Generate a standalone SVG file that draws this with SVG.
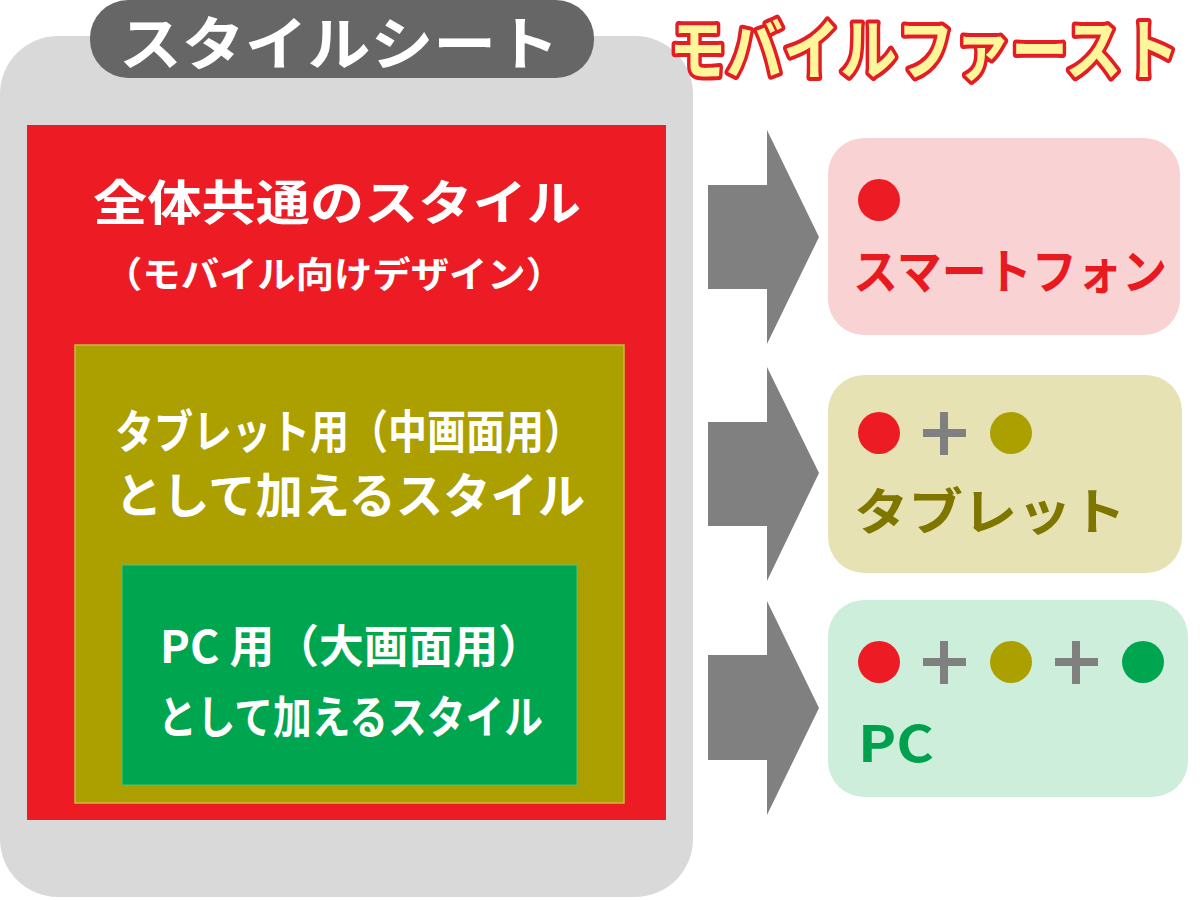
<svg xmlns="http://www.w3.org/2000/svg" width="1200" height="900" viewBox="0 0 1200 900">
<style>
  text { font-family: "Noto Sans CJK JP", "Noto Sans", sans-serif; font-weight: bold; }
  .w { fill: #ffffff; }
  .arrow { fill: #808080; }
  .plus { stroke: #808080; stroke-width: 8; }
</style>
<rect width="1200" height="900" fill="#ffffff"/>
<g id="stylesheet">
  <rect x="0" y="36" width="693" height="861" rx="58" fill="#d9d9d9"/>
  <rect x="90" y="0" width="504" height="78" rx="38" fill="#666666"/>
  <text class="w" x="119" y="65" font-size="58" textLength="440" lengthAdjust="spacingAndGlyphs">スタイルシート</text>
</g>
<g id="common">
  <rect x="27" y="125" width="639" height="695" fill="#ed1c24"/>
  <text class="w" x="93" y="220" font-size="48" textLength="488" lengthAdjust="spacingAndGlyphs">全体共通のスタイル</text>
  <text class="w" x="104" y="288" font-size="36" textLength="460" lengthAdjust="spacingAndGlyphs">（モバイル向けデザイン）</text>
</g>
<g id="tablet-style">
  <rect x="75" y="345" width="549" height="458" fill="#aca000" stroke="#c8bb40" stroke-width="1.5"/>
  <text class="w" x="115" y="448" font-size="46" textLength="468" lengthAdjust="spacingAndGlyphs">タブレット用（中画面用）</text>
  <text class="w" x="115" y="513" font-size="48" textLength="470" lengthAdjust="spacingAndGlyphs">として加えるスタイル</text>
</g>
<g id="pc-style">
  <rect x="122" y="565" width="455" height="220" fill="#00a550" stroke="#4cc27e" stroke-width="1"/>
  <text class="w" x="160" y="663" font-size="45" textLength="383" lengthAdjust="spacingAndGlyphs">PC 用（大画面用）</text>
  <text class="w" x="158" y="734" font-size="45" textLength="385" lengthAdjust="spacingAndGlyphs">として加えるスタイル</text>
</g>
<g id="title">
  <text x="669" y="74" font-size="66" textLength="510" lengthAdjust="spacingAndGlyphs" fill="#fff59a" stroke="#e31d23" stroke-width="8" stroke-linejoin="round" paint-order="stroke">モバイルファースト</text>
</g>
<g id="connectors">
  <polygon class="arrow" points="708,185 767,185 767,130 819,237 767,344 767,289 708,289"/>
  <polygon class="arrow" points="708,422 767,422 767,367 819,473 767,581 767,526 708,526"/>
  <polygon class="arrow" points="708,655 767,655 767,601 819,708 767,815 767,760 708,760"/>
</g>
<g id="smartphone">
  <rect x="828" y="138" width="352" height="197" rx="36" fill="#f9d2d3"/>
  <circle cx="879" cy="200" r="21" fill="#ed1c24"/>
  <text x="853" y="289" font-size="48" fill="#e8191f" textLength="314" lengthAdjust="spacingAndGlyphs">スマートフォン</text>
</g>
<g id="tablet">
  <rect x="828" y="375" width="354" height="198" rx="36" fill="#e6e2b3"/>
  <circle cx="879" cy="433" r="21" fill="#ed1c24"/>
  <line class="plus" x1="923" y1="433" x2="966" y2="433"/>
  <line class="plus" x1="944" y1="412" x2="944" y2="455"/>
  <circle cx="1011" cy="433" r="21" fill="#aca000"/>
  <text x="854" y="530" font-size="50" fill="#7f7600" textLength="272" lengthAdjust="spacingAndGlyphs">タブレット</text>
</g>
<g id="pc">
  <rect x="828" y="600" width="360" height="197" rx="36" fill="#ceeedc"/>
  <circle cx="879" cy="662" r="21" fill="#ed1c24"/>
  <line class="plus" x1="923" y1="662" x2="966" y2="662"/>
  <line class="plus" x1="944" y1="641" x2="944" y2="684"/>
  <circle cx="1011" cy="662" r="21" fill="#aca000"/>
  <line class="plus" x1="1055" y1="662" x2="1098" y2="662"/>
  <line class="plus" x1="1076" y1="641" x2="1076" y2="684"/>
  <circle cx="1143" cy="662" r="21" fill="#00a550"/>
  <text x="858" y="762" font-size="50" fill="#00a04f" textLength="76" lengthAdjust="spacingAndGlyphs">PC</text>
</g>
</svg>
